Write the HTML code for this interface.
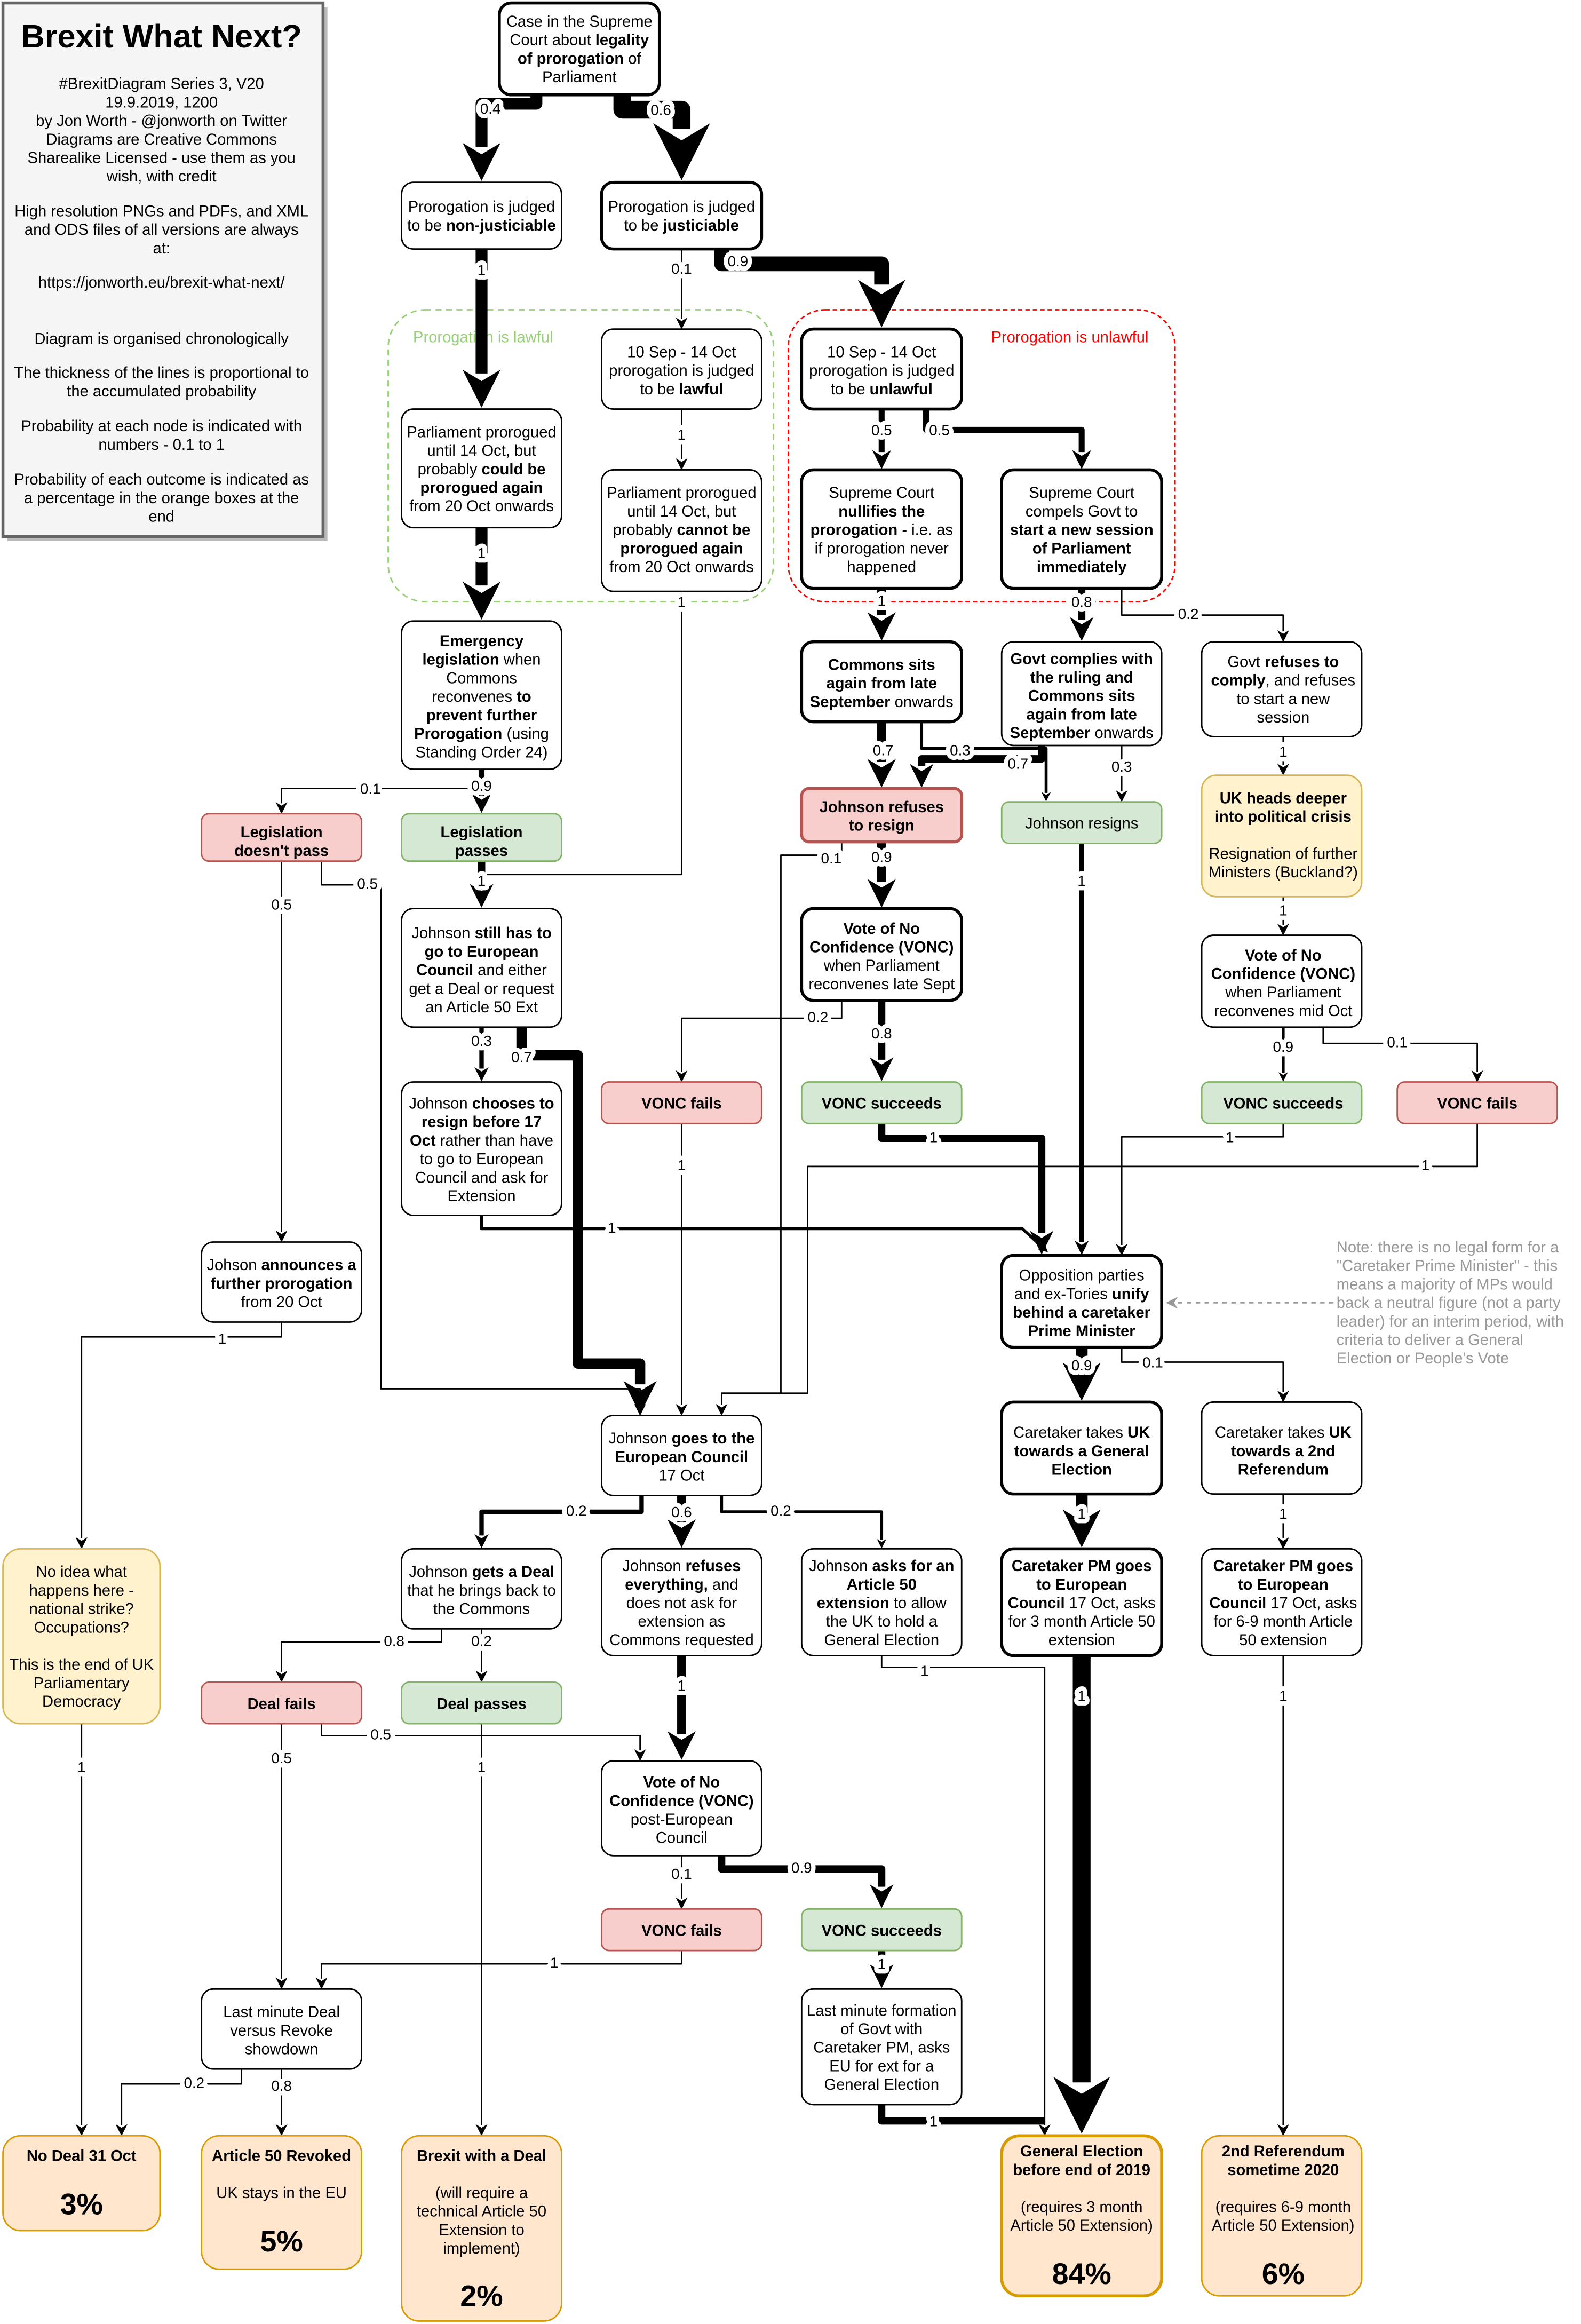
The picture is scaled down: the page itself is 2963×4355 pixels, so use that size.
<!DOCTYPE html>
<html><head><meta charset="utf-8"><style>
html,body{margin:0;padding:0;background:#fff}
svg{display:block}
text{font-family:"Liberation Sans",Arial,sans-serif;font-size:10.5px;fill:#000}
.t{text-anchor:middle}
.l{text-anchor:middle;font-size:10px;stroke:#fff;stroke-width:6px;stroke-linejoin:round;paint-order:stroke;dominant-baseline:middle}
b,.b{font-weight:bold}
.e{fill:none;stroke:#000;stroke-linejoin:round}
</style></head><body>
<svg xmlns="http://www.w3.org/2000/svg" width="2963" height="4355" viewBox="0 0 1067 1568" preserveAspectRatio="none">
<defs>
<marker id="m" markerUnits="userSpaceOnUse" viewBox="0 0 10 10" markerWidth="8" markerHeight="8" refX="1" refY="5" orient="auto"><path d="M0,0 L10,5 L0,10 L3,5 z" fill="#000"/></marker>
<marker id="M" markerUnits="strokeWidth" viewBox="0 0 10 10" markerWidth="3.2" markerHeight="3.2" refX="1" refY="5" orient="auto"><path d="M0,0 L10,5 L0,10 L3,5 z" fill="#000"/></marker>
<marker id="g" markerUnits="userSpaceOnUse" viewBox="0 0 10 10" markerWidth="8" markerHeight="8" refX="1" refY="5" orient="auto"><path d="M0,0 L10,5 L0,10 L3,5 z" fill="#999"/></marker>
</defs>

<!-- groups -->
<rect x="262" y="209" width="260" height="197" rx="25" fill="none" stroke="#97d077" stroke-dasharray="4,3"/>
<rect x="532" y="209" width="261" height="197" rx="25" fill="none" stroke="#f00" stroke-dasharray="3,2"/>
<text x="326" y="231" class="t" style="fill:#97d077">Prorogation is lawful</text>
<text x="722" y="231" class="t" style="fill:#f00">Prorogation is unlawful</text>

<!-- title box -->
<rect x="5" y="5" width="216" height="360" fill="#bbb"/>
<rect x="2" y="2" width="216" height="360" fill="#f5f5f5" stroke="#666" stroke-width="2"/>
<text x="109" y="32" class="t b" style="font-size:22px">Brexit What Next?</text>
<text class="t" x="109" y="60">#BrexitDiagram Series 3, V20<tspan x="109" dy="12.5">19.9.2019, 1200</tspan><tspan x="109" dy="12.5">by Jon Worth - @jonworth on Twitter</tspan><tspan x="109" dy="12.5">Diagrams are Creative Commons</tspan><tspan x="109" dy="12.5">Sharealike Licensed - use them as you</tspan><tspan x="109" dy="12.5">wish, with credit</tspan></text>
<text class="t" x="109" y="146">High resolution PNGs and PDFs, and XML<tspan x="109" dy="12.5">and ODS files of all versions are always</tspan><tspan x="109" dy="12.5">at:</tspan></text>
<text class="t" x="109" y="194">https://jonworth.eu/brexit-what-next/</text>
<text class="t" x="109" y="232">Diagram is organised chronologically</text>
<text class="t" x="109" y="255">The thickness of the lines is proportional to<tspan x="109" dy="12.5">the accumulated probability</tspan></text>
<text class="t" x="109" y="291">Probability at each node is indicated with<tspan x="109" dy="12.5">numbers - 0.1 to 1</tspan></text>
<text class="t" x="109" y="327">Probability of each outcome is indicated as<tspan x="109" dy="12.5">a percentage in the orange boxes at the</tspan><tspan x="109" dy="12.5">end</tspan></text>

<!-- edges -->
<g class="e">
<path d="M362,64 V70 H325 V99" stroke-width="8" marker-end="url(#M)"/>
<path d="M420,64 V74 H460 V87" stroke-width="12" marker-end="url(#M)"/>
<path d="M325,168 V252" stroke-width="8" marker-end="url(#M)"/>
<path d="M460,168 V215" marker-end="url(#m)"/>
<path d="M487,168 V178 H595 V192" stroke-width="10" marker-end="url(#M)"/>
<path d="M460,276 V310" marker-end="url(#m)"/>
<path d="M325,356 V395" stroke-width="8" marker-end="url(#M)"/>
<path d="M595,276 V305" stroke-width="4" marker-end="url(#M)"/>
<path d="M625,276 V290 H730 V305" stroke-width="4" marker-end="url(#M)"/>
<path d="M595,397 V415" stroke-width="6" marker-end="url(#M)"/>
<path d="M730,397 V418" stroke-width="5" marker-end="url(#M)"/>
<path d="M757,397 V415 H866 V426" marker-end="url(#m)"/>
<path d="M325,519 V532 H190 V542" marker-end="url(#m)"/>
<path d="M325,519 V537" stroke-width="4" marker-end="url(#M)"/>
<path d="M595,487 V514" stroke-width="6" marker-end="url(#M)"/>
<path d="M622,487 V505 H706 V535" stroke-width="2" marker-end="url(#M)"/>
<path d="M703,503 V512 H622 V517" stroke-width="5" marker-end="url(#M)"/>
<path d="M757,503 V534" marker-end="url(#m)"/>
<path d="M866,497 V516" marker-end="url(#m)"/>
<path d="M460,399 V590 H325"/>
<path d="M325,581 V598" stroke-width="5" marker-end="url(#M)"/>
<path d="M190,581 V831" marker-end="url(#m)"/>
<path d="M217,581 V597 H257 V937 H432 V948" marker-end="url(#m)"/>
<path d="M595,568 V595" stroke-width="6" marker-end="url(#M)"/>
<path d="M568,568 V577 H527 V940 H487 V948" marker-end="url(#m)"/>
<path d="M730,569 V838" stroke-width="3" marker-end="url(#M)"/>
<path d="M866,605 V624" marker-end="url(#m)"/>
<path d="M325,693 V721" stroke-width="3" marker-end="url(#M)"/>
<path d="M352,693 V712 H390 V920 H432 V934" stroke-width="7" marker-end="url(#M)"/>
<path d="M568,675 V687 H460 V723" marker-end="url(#m)"/>
<path d="M595,675 V715" stroke-width="5" marker-end="url(#M)"/>
<path d="M866,693 V724" stroke-width="2" marker-end="url(#M)"/>
<path d="M893,693 V704 H997 V723" marker-end="url(#m)"/>
<path d="M460,758 V948" marker-end="url(#m)"/>
<path d="M595,758 V768 H703 V832" stroke-width="5" marker-end="url(#M)"/>
<path d="M866,758 V767 H757 V840" marker-end="url(#m)"/>
<path d="M997,758 V787 H545 V940 H487"/>
<path d="M325,820 V829 H690 L703,841" stroke-width="2" marker-end="url(#M)"/>
<path d="M190,892 V902 H55 V1038" marker-end="url(#m)"/>
<path d="M730,909 V922" stroke-width="8" marker-end="url(#M)"/>
<path d="M757,909 V919 H866 V939" marker-end="url(#m)"/>
<path d="M900,879 H794" stroke="#999" stroke-dasharray="3,3" marker-end="url(#g)"/>
<path d="M433,1009 V1020 H325 V1036" stroke-width="3" marker-end="url(#M)"/>
<path d="M460,1009 V1027" stroke-width="6" marker-end="url(#M)"/>
<path d="M487,1009 V1020 H595 V1039" stroke-width="2" marker-end="url(#M)"/>
<path d="M730,1008 V1021" stroke-width="8" marker-end="url(#M)"/>
<path d="M866,1008 V1038" marker-end="url(#m)"/>
<path d="M298,1099 V1108 H190 V1128" marker-end="url(#m)"/>
<path d="M325,1099 V1128" marker-end="url(#m)"/>
<path d="M460,1117 V1170" stroke-width="6" marker-end="url(#M)"/>
<path d="M595,1117 V1125 H705 V1434" marker-end="url(#m)"/>
<path d="M730,1117 V1405" stroke-width="12" marker-end="url(#M)"/>
<path d="M866,1117 V1434" marker-end="url(#m)"/>
<path d="M190,1163 V1335" marker-end="url(#m)"/>
<path d="M217,1163 V1171 H432 V1181" marker-end="url(#m)"/>
<path d="M325,1163 V1434" marker-end="url(#m)"/>
<path d="M55,1163 V1434" marker-end="url(#m)"/>
<path d="M460,1252 V1281" marker-end="url(#m)"/>
<path d="M487,1252 V1261 H595 V1273" stroke-width="5" marker-end="url(#M)"/>
<path d="M460,1316 V1325 H217 V1335" marker-end="url(#m)"/>
<path d="M595,1316 V1327" stroke-width="5" marker-end="url(#M)"/>
<path d="M163,1396 V1406 H82 V1434" marker-end="url(#m)"/>
<path d="M190,1396 V1434" marker-end="url(#m)"/>
<path d="M595,1420 V1431 H705" stroke-width="5"/>
</g>

<!-- edge labels -->
<g>
<text class="l" x="331" y="74">0.4</text>
<text class="l" x="446" y="75">0.6</text>
<text class="l" x="325" y="183">1</text>
<text class="l" x="460" y="182">0.1</text>
<text class="l" x="498" y="177">0.9</text>
<text class="l" x="460" y="294">1</text>
<text class="l" x="325" y="374">1</text>
<text class="l" x="595" y="291">0.5</text>
<text class="l" x="634" y="291">0.5</text>
<text class="l" x="595" y="406">1</text>
<text class="l" x="730" y="407">0.8</text>
<text class="l" x="802" y="415">0.2</text>
<text class="l" x="250" y="533">0.1</text>
<text class="l" x="325" y="531">0.9</text>
<text class="l" x="596" y="507">0.7</text>
<text class="l" x="648" y="507">0.3</text>
<text class="l" x="687" y="516">0.7</text>
<text class="l" x="757" y="518">0.3</text>
<text class="l" x="866" y="508">1</text>
<text class="l" x="325" y="595">1</text>
<text class="l" x="190" y="611">0.5</text>
<text class="l" x="248" y="597">0.5</text>
<text class="l" x="460" y="407">1</text>
<text class="l" x="595" y="579">0.9</text>
<text class="l" x="561" y="580">0.1</text>
<text class="l" x="730" y="595">1</text>
<text class="l" x="866" y="615">1</text>
<text class="l" x="325" y="703">0.3</text>
<text class="l" x="352" y="714">0.7</text>
<text class="l" x="552" y="687">0.2</text>
<text class="l" x="595" y="698">0.8</text>
<text class="l" x="866" y="707">0.9</text>
<text class="l" x="943" y="704">0.1</text>
<text class="l" x="460" y="787">1</text>
<text class="l" x="630" y="768">1</text>
<text class="l" x="830" y="768">1</text>
<text class="l" x="962" y="787">1</text>
<text class="l" x="413" y="829">1</text>
<text class="l" x="150" y="904">1</text>
<text class="l" x="730" y="922">0.9</text>
<text class="l" x="778" y="920">0.1</text>
<text class="l" x="389" y="1020">0.2</text>
<text class="l" x="460" y="1021">0.6</text>
<text class="l" x="527" y="1020">0.2</text>
<text class="l" x="730" y="1022">1</text>
<text class="l" x="866" y="1022">1</text>
<text class="l" x="266" y="1108">0.8</text>
<text class="l" x="325" y="1108">0.2</text>
<text class="l" x="460" y="1138">1</text>
<text class="l" x="624" y="1128">1</text>
<text class="l" x="730" y="1145">1</text>
<text class="l" x="866" y="1145">1</text>
<text class="l" x="190" y="1187">0.5</text>
<text class="l" x="257" y="1171">0.5</text>
<text class="l" x="325" y="1193">1</text>
<text class="l" x="55" y="1193">1</text>
<text class="l" x="460" y="1265">0.1</text>
<text class="l" x="541" y="1261">0.9</text>
<text class="l" x="374" y="1325">1</text>
<text class="l" x="595" y="1326">1</text>
<text class="l" x="131" y="1406">0.2</text>
<text class="l" x="190" y="1408">0.8</text>
<text class="l" x="630" y="1432">1</text>
</g>

<!-- nodes -->
<g fill="#fff" stroke="#000">
<rect x="337" y="2" width="108" height="62" rx="8" stroke-width="2"/>
<rect x="271" y="123" width="108" height="45" rx="8"/>
<rect x="406" y="123" width="108" height="45" rx="8" stroke-width="2"/>
<rect x="406" y="222" width="108" height="54" rx="8"/>
<rect x="541" y="222" width="108" height="54" rx="8" stroke-width="2"/>
<rect x="271" y="276" width="108" height="80" rx="8"/>
<rect x="406" y="317" width="108" height="82" rx="8"/>
<rect x="541" y="317" width="108" height="80" rx="8" stroke-width="2"/>
<rect x="676" y="317" width="108" height="80" rx="8" stroke-width="2"/>
<rect x="271" y="419" width="108" height="100" rx="8"/>
<rect x="541" y="433" width="108" height="54" rx="8" stroke-width="2"/>
<rect x="676" y="433" width="108" height="70" rx="8"/>
<rect x="811" y="433" width="108" height="64" rx="8"/>
<rect x="136" y="549" width="108" height="32" rx="5" fill="#f8cecc" stroke="#b85450"/>
<rect x="271" y="549" width="108" height="32" rx="5" fill="#d5e8d4" stroke="#82b366"/>
<rect x="541" y="532" width="108" height="36" rx="5" fill="#f8cecc" stroke="#b85450" stroke-width="2"/>
<rect x="676" y="541" width="108" height="28" rx="5" fill="#d5e8d4" stroke="#82b366"/>
<rect x="811" y="523" width="108" height="82" rx="10" fill="#fff2cc" stroke="#d6b656"/>
<rect x="271" y="613" width="108" height="80" rx="8"/>
<rect x="541" y="613" width="108" height="62" rx="8" stroke-width="2"/>
<rect x="811" y="631" width="108" height="62" rx="8"/>
<rect x="271" y="730" width="108" height="90" rx="8"/>
<rect x="406" y="730" width="108" height="28" rx="5" fill="#f8cecc" stroke="#b85450"/>
<rect x="541" y="730" width="108" height="28" rx="5" fill="#d5e8d4" stroke="#82b366"/>
<rect x="811" y="730" width="108" height="28" rx="5" fill="#d5e8d4" stroke="#82b366"/>
<rect x="943" y="730" width="108" height="28" rx="5" fill="#f8cecc" stroke="#b85450"/>
<rect x="136" y="838" width="108" height="54" rx="8"/>
<rect x="676" y="847" width="108" height="62" rx="8" stroke-width="2"/>
<rect x="406" y="955" width="108" height="54" rx="8"/>
<rect x="676" y="946" width="108" height="62" rx="8" stroke-width="2"/>
<rect x="811" y="946" width="108" height="62" rx="8"/>
<rect x="2" y="1045" width="106" height="118" rx="12" fill="#fff2cc" stroke="#d6b656"/>
<rect x="271" y="1045" width="108" height="54" rx="8"/>
<rect x="406" y="1045" width="108" height="72" rx="8"/>
<rect x="541" y="1045" width="108" height="72" rx="8"/>
<rect x="676" y="1045" width="108" height="72" rx="8" stroke-width="2"/>
<rect x="811" y="1045" width="108" height="72" rx="8"/>
<rect x="136" y="1135" width="108" height="28" rx="5" fill="#f8cecc" stroke="#b85450"/>
<rect x="271" y="1135" width="108" height="28" rx="5" fill="#d5e8d4" stroke="#82b366"/>
<rect x="406" y="1188" width="108" height="64" rx="8"/>
<rect x="406" y="1288" width="108" height="28" rx="5" fill="#f8cecc" stroke="#b85450"/>
<rect x="541" y="1288" width="108" height="28" rx="5" fill="#d5e8d4" stroke="#82b366"/>
<rect x="136" y="1342" width="108" height="54" rx="8"/>
<rect x="541" y="1342" width="108" height="78" rx="8"/>
<rect x="2" y="1441" width="106" height="64" rx="12" fill="#ffe6cc" stroke="#d79b00"/>
<rect x="136" y="1441" width="108" height="90" rx="12" fill="#ffe6cc" stroke="#d79b00"/>
<rect x="271" y="1441" width="108" height="125" rx="12" fill="#ffe6cc" stroke="#d79b00"/>
<rect x="676" y="1441" width="108" height="108" rx="12" fill="#ffe6cc" stroke="#d79b00" stroke-width="2"/>
<rect x="811" y="1441" width="108" height="108" rx="12" fill="#ffe6cc" stroke="#d79b00"/>
</g>

<!-- node texts -->
<g>
<text class="t" x="391" y="18">Case in the Supreme<tspan x="391" dy="12.5">Court about <tspan class="b">legality</tspan></tspan><tspan x="391" dy="12.5"><tspan class="b">of prorogation</tspan> of</tspan><tspan x="391" dy="12.5">Parliament</tspan></text>
<text class="t" x="325" y="143">Prorogation is judged<tspan x="325" dy="12.5">to be <tspan class="b">non-justiciable</tspan></tspan></text>
<text class="t" x="460" y="143">Prorogation is judged<tspan x="460" dy="12.5">to be <tspan class="b">justiciable</tspan></tspan></text>
<text class="t" x="460" y="241">10 Sep - 14 Oct<tspan x="460" dy="12.5">prorogation is judged</tspan><tspan x="460" dy="12.5">to be <tspan class="b">lawful</tspan></tspan></text>
<text class="t" x="595" y="241">10 Sep - 14 Oct<tspan x="595" dy="12.5">prorogation is judged</tspan><tspan x="595" dy="12.5">to be <tspan class="b">unlawful</tspan></tspan></text>
<text class="t" x="325" y="295">Parliament prorogued<tspan x="325" dy="12.5">until 14 Oct, but</tspan><tspan x="325" dy="12.5">probably <tspan class="b">could be</tspan></tspan><tspan x="325" dy="12.5" class="b">prorogued again</tspan><tspan x="325" dy="12.5">from 20 Oct onwards</tspan></text>
<text class="t" x="460" y="336">Parliament prorogued<tspan x="460" dy="12.5">until 14 Oct, but</tspan><tspan x="460" dy="12.5">probably <tspan class="b">cannot be</tspan></tspan><tspan x="460" dy="12.5" class="b">prorogued again</tspan><tspan x="460" dy="12.5">from 20 Oct onwards</tspan></text>
<text class="t" x="595" y="336">Supreme Court<tspan x="595" dy="12.5" class="b">nullifies the</tspan><tspan x="595" dy="12.5"><tspan class="b">prorogation</tspan> - i.e. as</tspan><tspan x="595" dy="12.5">if prorogation never</tspan><tspan x="595" dy="12.5">happened</tspan></text>
<text class="t" x="730" y="336">Supreme Court<tspan x="730" dy="12.5">compels Govt to</tspan><tspan x="730" dy="12.5" class="b">start a new session</tspan><tspan x="730" dy="12.5" class="b">of Parliament</tspan><tspan x="730" dy="12.5" class="b">immediately</tspan></text>
<text class="t" x="325" y="436"><tspan class="b">Emergency</tspan><tspan x="325" dy="12.5"><tspan class="b">legislation</tspan> when</tspan><tspan x="325" dy="12.5">Commons</tspan><tspan x="325" dy="12.5">reconvenes <tspan class="b">to</tspan></tspan><tspan x="325" dy="12.5" class="b">prevent further</tspan><tspan x="325" dy="12.5"><tspan class="b">Prorogation</tspan> (using</tspan><tspan x="325" dy="12.5">Standing Order 24)</tspan></text>
<text class="t" x="595" y="452" font-weight="bold">Commons sits<tspan x="595" dy="12.5">again from late</tspan><tspan x="595" dy="12.5"><tspan class="b">September</tspan><tspan font-weight="normal"> onwards</tspan></tspan></text>
<text class="t" x="730" y="448"><tspan class="b">Govt complies with</tspan><tspan x="730" dy="12.5" class="b">the ruling and</tspan><tspan x="730" dy="12.5" class="b">Commons sits</tspan><tspan x="730" dy="12.5" class="b">again from late</tspan><tspan x="730" dy="12.5"><tspan class="b">September</tspan> onwards</tspan></text>
<text class="t" x="866" y="450">Govt <tspan class="b">refuses to</tspan><tspan x="866" dy="12.5"><tspan class="b">comply</tspan>, and refuses</tspan><tspan x="866" dy="12.5">to start a new</tspan><tspan x="866" dy="12.5">session</tspan></text>
<text class="t b" x="190" y="565">Legislation<tspan x="190" dy="12.5">doesn't pass</tspan></text>
<text class="t b" x="325" y="565">Legislation<tspan x="325" dy="12.5">passes</tspan></text>
<text class="t b" x="595" y="548">Johnson refuses<tspan x="595" dy="12.5">to resign</tspan></text>
<text class="t" x="730" y="559">Johnson resigns</text>
<text class="t" x="866" y="542"><tspan class="b">UK heads deeper</tspan><tspan x="866" dy="12.5" class="b">into political crisis</tspan><tspan x="866" dy="25">Resignation of further</tspan><tspan x="866" dy="12.5">Ministers (Buckland?)</tspan></text>
<text class="t" x="325" y="633">Johnson <tspan class="b">still has to</tspan><tspan x="325" dy="12.5" class="b">go to European</tspan><tspan x="325" dy="12.5"><tspan class="b">Council</tspan> and either</tspan><tspan x="325" dy="12.5">get a Deal or request</tspan><tspan x="325" dy="12.5">an Article 50 Ext</tspan></text>
<text class="t" x="595" y="630" font-weight="bold">Vote of No<tspan x="595" dy="12.5">Confidence (VONC)</tspan><tspan x="595" dy="12.5" font-weight="normal">when Parliament</tspan><tspan x="595" dy="12.5" font-weight="normal">reconvenes late Sept</tspan></text>
<text class="t" x="866" y="648" font-weight="bold">Vote of No<tspan x="866" dy="12.5">Confidence (VONC)</tspan><tspan x="866" dy="12.5" font-weight="normal">when Parliament</tspan><tspan x="866" dy="12.5" font-weight="normal">reconvenes mid Oct</tspan></text>
<text class="t" x="325" y="748">Johnson <tspan class="b">chooses to</tspan><tspan x="325" dy="12.5" class="b">resign before 17</tspan><tspan x="325" dy="12.5"><tspan class="b">Oct</tspan> rather than have</tspan><tspan x="325" dy="12.5">to go to European</tspan><tspan x="325" dy="12.5">Council and ask for</tspan><tspan x="325" dy="12.5">Extension</tspan></text>
<text class="t b" x="460" y="748">VONC fails</text>
<text class="t b" x="595" y="748">VONC succeeds</text>
<text class="t b" x="866" y="748">VONC succeeds</text>
<text class="t b" x="997" y="748">VONC fails</text>
<text class="t" x="190" y="857">Johson <tspan class="b">announces a</tspan><tspan x="190" dy="12.5" class="b">further prorogation</tspan><tspan x="190" dy="12.5">from 20 Oct</tspan></text>
<text class="t" x="730" y="864">Opposition parties<tspan x="730" dy="12.5">and ex-Tories <tspan class="b">unify</tspan></tspan><tspan x="730" dy="12.5" class="b">behind a caretaker</tspan><tspan x="730" dy="12.5" class="b">Prime Minister</tspan></text>
<text x="902" y="845" style="fill:#999">Note: there is no legal form for a<tspan x="902" dy="12.5">"Caretaker Prime Minister" - this</tspan><tspan x="902" dy="12.5">means a majority of MPs would</tspan><tspan x="902" dy="12.5">back a neutral figure (not a party</tspan><tspan x="902" dy="12.5">leader) for an interim period, with</tspan><tspan x="902" dy="12.5">criteria to deliver a General</tspan><tspan x="902" dy="12.5">Election or People's Vote</tspan></text>
<text class="t" x="460" y="974">Johnson <tspan class="b">goes to the</tspan><tspan x="460" dy="12.5" class="b">European Council</tspan><tspan x="460" dy="12.5">17 Oct</tspan></text>
<text class="t" x="730" y="970">Caretaker takes <tspan class="b">UK</tspan><tspan x="730" dy="12.5" class="b">towards a General</tspan><tspan x="730" dy="12.5" class="b">Election</tspan></text>
<text class="t" x="866" y="970">Caretaker takes <tspan class="b">UK</tspan><tspan x="866" dy="12.5" class="b">towards a 2nd</tspan><tspan x="866" dy="12.5" class="b">Referendum</tspan></text>
<text class="t" x="55" y="1064">No idea what<tspan x="55" dy="12.5">happens here -</tspan><tspan x="55" dy="12.5">national strike?</tspan><tspan x="55" dy="12.5">Occupations?</tspan><tspan x="55" dy="25">This is the end of UK</tspan><tspan x="55" dy="12.5">Parliamentary</tspan><tspan x="55" dy="12.5">Democracy</tspan></text>
<text class="t" x="325" y="1064">Johnson <tspan class="b">gets a Deal</tspan><tspan x="325" dy="12.5">that he brings back to</tspan><tspan x="325" dy="12.5">the Commons</tspan></text>
<text class="t" x="460" y="1060">Johnson <tspan class="b">refuses</tspan><tspan x="460" dy="12.5"><tspan class="b">everything,</tspan> and</tspan><tspan x="460" dy="12.5">does not ask for</tspan><tspan x="460" dy="12.5">extension as</tspan><tspan x="460" dy="12.5">Commons requested</tspan></text>
<text class="t" x="595" y="1060">Johnson <tspan class="b">asks for an</tspan><tspan x="595" dy="12.5" class="b">Article 50</tspan><tspan x="595" dy="12.5"><tspan class="b">extension</tspan> to allow</tspan><tspan x="595" dy="12.5">the UK to hold a</tspan><tspan x="595" dy="12.5">General Election</tspan></text>
<text class="t" x="730" y="1060"><tspan class="b">Caretaker PM goes</tspan><tspan x="730" dy="12.5" class="b">to European</tspan><tspan x="730" dy="12.5"><tspan class="b">Council</tspan> 17 Oct, asks</tspan><tspan x="730" dy="12.5">for 3 month Article 50</tspan><tspan x="730" dy="12.5">extension</tspan></text>
<text class="t" x="866" y="1060"><tspan class="b">Caretaker PM goes</tspan><tspan x="866" dy="12.5" class="b">to European</tspan><tspan x="866" dy="12.5"><tspan class="b">Council</tspan> 17 Oct, asks</tspan><tspan x="866" dy="12.5">for 6-9 month Article</tspan><tspan x="866" dy="12.5">50 extension</tspan></text>
<text class="t b" x="190" y="1153">Deal fails</text>
<text class="t b" x="325" y="1153">Deal passes</text>
<text class="t" x="460" y="1206" font-weight="bold">Vote of No<tspan x="460" dy="12.5">Confidence (VONC)</tspan><tspan x="460" dy="12.5" font-weight="normal">post-European</tspan><tspan x="460" dy="12.5" font-weight="normal">Council</tspan></text>
<text class="t b" x="460" y="1306">VONC fails</text>
<text class="t b" x="595" y="1306">VONC succeeds</text>
<text class="t" x="190" y="1361">Last minute Deal<tspan x="190" dy="12.5">versus Revoke</tspan><tspan x="190" dy="12.5">showdown</tspan></text>
<text class="t" x="595" y="1360">Last minute formation<tspan x="595" dy="12.5">of Govt with</tspan><tspan x="595" dy="12.5">Caretaker PM, asks</tspan><tspan x="595" dy="12.5">EU for ext for a</tspan><tspan x="595" dy="12.5">General Election</tspan></text>
<text class="t b" x="55" y="1458">No Deal 31 Oct</text>
<text class="t b" x="55" y="1494" style="font-size:20px">3%</text>
<text class="t" x="190" y="1458"><tspan class="b">Article 50 Revoked</tspan><tspan x="190" dy="25">UK stays in the EU</tspan></text>
<text class="t b" x="190" y="1519" style="font-size:20px">5%</text>
<text class="t" x="325" y="1458"><tspan class="b">Brexit with a Deal</tspan><tspan x="325" dy="25">(will require a</tspan><tspan x="325" dy="12.5">technical Article 50</tspan><tspan x="325" dy="12.5">Extension to</tspan><tspan x="325" dy="12.5">implement)</tspan></text>
<text class="t b" x="325" y="1556" style="font-size:20px">2%</text>
<text class="t" x="730" y="1455"><tspan class="b">General Election</tspan><tspan x="730" dy="12.5" class="b">before end of 2019</tspan><tspan x="730" dy="25">(requires 3 month</tspan><tspan x="730" dy="12.5">Article 50 Extension)</tspan></text>
<text class="t b" x="730" y="1541" style="font-size:20px">84%</text>
<text class="t" x="866" y="1455"><tspan class="b">2nd Referendum</tspan><tspan x="866" dy="12.5" class="b">sometime 2020</tspan><tspan x="866" dy="25">(requires 6-9 month</tspan><tspan x="866" dy="12.5">Article 50 Extension)</tspan></text>
<text class="t b" x="866" y="1541" style="font-size:20px">6%</text>
</g>
</svg>
</body></html>
